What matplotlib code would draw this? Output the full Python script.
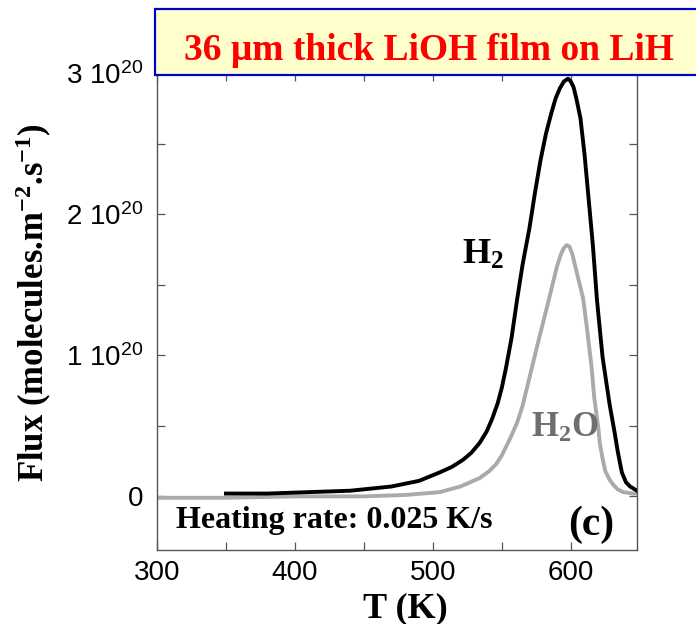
import matplotlib
matplotlib.use('Agg')
import matplotlib.pyplot as plt
import numpy as np
from matplotlib.ticker import FuncFormatter, MultipleLocator
from matplotlib.patches import Rectangle

plt.rcParams['font.family'] = ['Liberation Sans', 'DejaVu Sans']
plt.rcParams['mathtext.default'] = 'regular'

# data, flux in units of 1e20 molecules/m2/s
T_h2 = [350, 380, 410, 440, 470, 490, 505, 514, 522, 528, 534, 539, 543, 547, 550, 553, 557,
        561, 565, 570, 574, 578, 582, 586, 589, 592, 595, 598, 600, 602, 604, 607, 610,
        613, 616, 619, 623, 628, 632, 634, 637, 640, 643, 648]
flux_h2 = [0.02, 0.02, 0.03, 0.04, 0.07, 0.11, 0.17, 0.21, 0.26, 0.31, 0.38, 0.46, 0.55, 0.66, 0.77, 0.91, 1.12,
           1.39, 1.64, 1.90, 2.15, 2.38, 2.57, 2.72, 2.82, 2.89, 2.94, 2.96, 2.94, 2.90, 2.82, 2.68, 2.42,
           2.10, 1.78, 1.39, 0.99, 0.66, 0.44, 0.32, 0.17, 0.10, 0.07, 0.04]

T_h2o = [300, 350, 400, 450, 480, 505, 520, 527, 534, 541, 546, 550, 553, 556, 561, 565,
         570, 574, 577, 584, 590, 593, 595, 597, 599, 601, 605, 609, 612, 615, 617, 620,
         621, 623, 625, 628, 631, 634, 638, 645, 648]
flux_h2o = [-0.01, -0.01, 0.0, 0.0, 0.01, 0.03, 0.07, 0.10, 0.13, 0.18, 0.23, 0.29, 0.35, 0.41, 0.52, 0.64,
            0.84, 1.00, 1.12, 1.39, 1.63, 1.72, 1.76, 1.78, 1.77, 1.72, 1.56, 1.40, 1.17, 0.92, 0.70, 0.48,
            0.38, 0.27, 0.18, 0.12, 0.08, 0.05, 0.03, 0.02, 0.02]

x_ticks = [300, 400, 500, 600]
y_ticks = [0, 1, 2, 3]

serif = ['Liberation Serif', 'DejaVu Serif']

fig = plt.figure(figsize=(6.96, 6.24), dpi=100)
ax = fig.add_axes([157/696, 74/624, 480/696, 477/624])

ax.plot(T_h2o, np.array(flux_h2o) * 1e20, color='#aaaaaa', lw=2.8, solid_joinstyle='round')
ax.plot(T_h2, np.array(flux_h2) * 1e20, color='black', lw=2.8, solid_joinstyle='round')

ax.set_xlim(300, 648)
ax.set_ylim(-0.38e20, 3.0e20)
ax.set_xticks(x_ticks)
ax.xaxis.set_minor_locator(MultipleLocator(50))
ax.set_yticks([v * 1e20 for v in y_ticks])
ax.yaxis.set_minor_locator(MultipleLocator(0.5e20))


def fmt(v, pos):
    n = int(round(v / 1e20))
    return '0' if n == 0 else f'{n} 10$^{{20}}$'


ax.yaxis.set_major_formatter(FuncFormatter(fmt))
ax.tick_params(which='both', direction='in', top=True, right=True, length=6,
               width=0.9, color='#555555', labelsize=20)
ax.tick_params(axis='x', pad=7)
ax.tick_params(axis='y', pad=10)
for s in ax.spines.values():
    s.set_color('#555555')
    s.set_linewidth(1.0)

ax.set_xlabel('T (K)', family=serif, weight='bold', fontsize=26)
ax.xaxis.set_label_coords(0.517, -0.088)
ax.set_ylabel('Flux (molecules.m$^{-2}$.s$^{-1}$)', family=serif, weight='bold', fontsize=25)
ax.yaxis.set_label_coords(-0.215, 0.518)

ax.text(536, 1.71e20, 'H$_2$', family=serif, weight='bold', fontsize=26,
        ha='center', va='center')
ax.text(596, 0.48e20, 'H$_2$O', family=serif, weight='bold', fontsize=25,
        color='#6e6e6e', ha='center', va='center')
ax.text(314, -0.17e20, 'Heating rate: 0.025 K/s', family=serif,
        weight='bold', fontsize=23, ha='left', va='center')
ax.text(615, -0.2e20, '(c)', family=serif, weight='bold', fontsize=30,
        ha='center', va='center')

# title box at the top
fig.patches.append(Rectangle((155/696, 1 - 75/624), 0.9, 66/624, transform=fig.transFigure,
                             facecolor='#ffffcc', edgecolor='#0000cc', lw=1.6, zorder=5))
fig.text(429/696, 1 - 59.5/624, '36 \u03bcm thick LiOH film on LiH', family=serif,
         weight='bold', fontsize=27, color='red', ha='center', va='baseline', zorder=6)

plt.savefig('out.png', dpi=100)
